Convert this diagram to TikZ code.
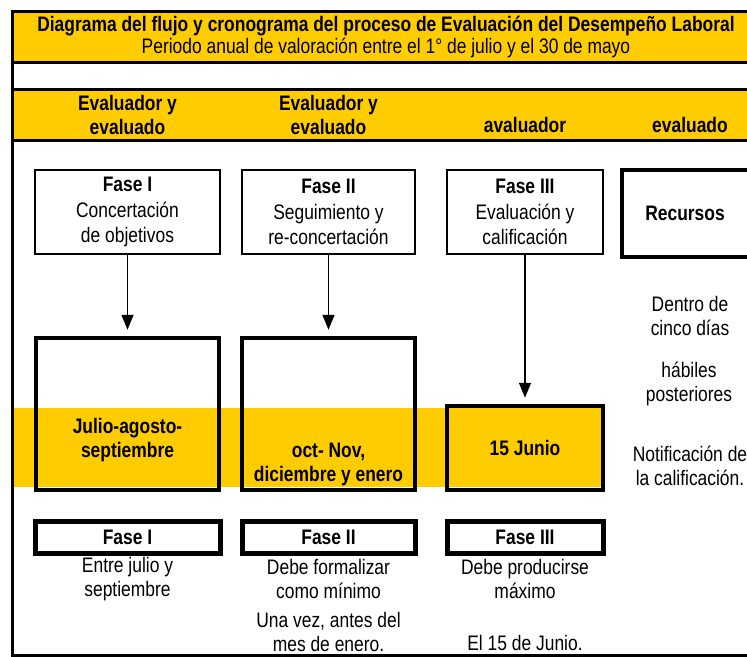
\documentclass[tikz,border=0pt]{standalone}
\usepackage{fontspec}
\setmainfont[FakeStretch=0.83]{Liberation Sans}
\usepackage{tikz}
\usetikzlibrary{arrows.meta, positioning}
\definecolor{oro}{RGB}{255,204,0}

\tikzset{
	marco/.style={line width=3pt},
	caja/.style={draw, line width=2.5pt, inner sep=0pt, align=center},
	cajagruesa/.style={draw, line width=4.5pt, inner sep=0pt, align=center},
	texto/.style={inner sep=0pt, align=center},
	flecha/.style={line width=1.5pt, -{Triangle[width=12pt,length=15pt]}, shorten >=6pt},
}

\begin{document}
\begin{tikzpicture}[x=1pt, y=-1pt]
	\useasboundingbox (0,0) rectangle (747,656);
	\fontsize{21}{24}\selectfont

	% bandas amarillas
	\fill[oro] (12,11) rectangle (747,62);
	\fill[oro] (12,89) rectangle (747,140);
	\fill[oro] (13,408) rectangle (604,487);

	\draw[marco] (747,11) -- (12,11) -- (12,655) -- (747,655);
	\draw[marco] (12,62) -- (747,62);
	\draw[marco] (12,89) -- (747,89);
	\draw[marco] (12,140) -- (747,140);

	\node[texto] (titulo) at (386,26) {\textbf{Diagrama del flujo y cronograma del proceso de Evaluación del Desempeño Laboral}};
	\node[texto] (periodo) at (386,48) {Periodo anual de valoración entre el 1° de julio y el 30 de mayo};

	\node[texto, font=\bfseries] (col1) at (127.5,115) {Evaluador y\\evaluado};
	\node[texto, font=\bfseries] (col2) at (328.5,115) {Evaluador y\\evaluado};
	\node[texto, font=\bfseries, anchor=base] (col3) at (525,132) {avaluador};
	\node[texto, font=\bfseries, anchor=base] (col4) at (690,132) {evaluado};

	% fases de arriba
	\node[caja, minimum width=185, minimum height=84] (fase1) at (127.5,212) {\textbf{Fase I}\\[2pt]Concertación\\[1pt]de objetivos};
	\node[caja, minimum width=173, minimum height=84] (fase2) at (328.5,212) {\textbf{Fase II}\\[2pt]Seguimiento y\\[1pt]re-concertación};
	\node[caja, minimum width=156, minimum height=84] (fase3) at (525,212) {\textbf{Fase III}\\[2pt]Evaluación y\\[1pt]calificación};
	\node[cajagruesa, line width=4pt, minimum width=130, minimum height=87] (recursos) at (687,213.5) {};
	\node[texto, font=\bfseries] (recursostxt) at (685,213.5) {Recursos};

	% cajas de fechas
	\node[cajagruesa, minimum width=183, minimum height=152] (mes1) at (127.5,414) {};
	\node[cajagruesa, minimum width=173, minimum height=152] (mes2) at (328.5,414) {};
	\node[cajagruesa, minimum width=156, minimum height=84] (mes3) at (525,448) {\textbf{15 Junio}};
	\node[texto, font=\bfseries] (mes1txt) at (127.5,440) {Julio-agosto-\\septiembre};
	\node[texto, font=\bfseries] (mes2txt) at (328.5,464) {oct- Nov,\\diciembre y enero};

	\draw[flecha] (fase1) -- (mes1);
	\draw[flecha] (fase2) -- (mes2);
	\draw[flecha] (fase3) -- (mes3);

	\node[texto] (plazo1) at (690,316) {Dentro de\\cinco días};
	\node[texto] (plazo2) at (689,384) {hábiles\\posteriores};
	\node[texto] (plazo3) at (690,466) {Notificación de\\la calificación.};

	% fases de abajo
	\node[cajagruesa, line width=5pt, minimum width=185, minimum height=32] (pie1) at (127.5,537) {\textbf{Fase I}};
	\node[cajagruesa, line width=5pt, minimum width=173, minimum height=32] (pie2) at (328.5,537) {\textbf{Fase II}};
	\node[cajagruesa, line width=5pt, minimum width=156, minimum height=32] (pie3) at (525,537) {\textbf{Fase III}};

	\node[texto] (nota1) at (127.5,579) {Entre julio y\\septiembre};
	\node[texto] (nota2) at (328.5,579) {Debe formalizar\\como mínimo};
	\node[texto] (nota2b) at (328.5,631.5) {Una vez, antes del\\mes de enero.};
	\node[texto] (nota3) at (525,579) {Debe producirse\\máximo};
	\node[texto] (nota3b) at (525,643) {El 15 de Junio.};

\end{tikzpicture}
\end{document}
